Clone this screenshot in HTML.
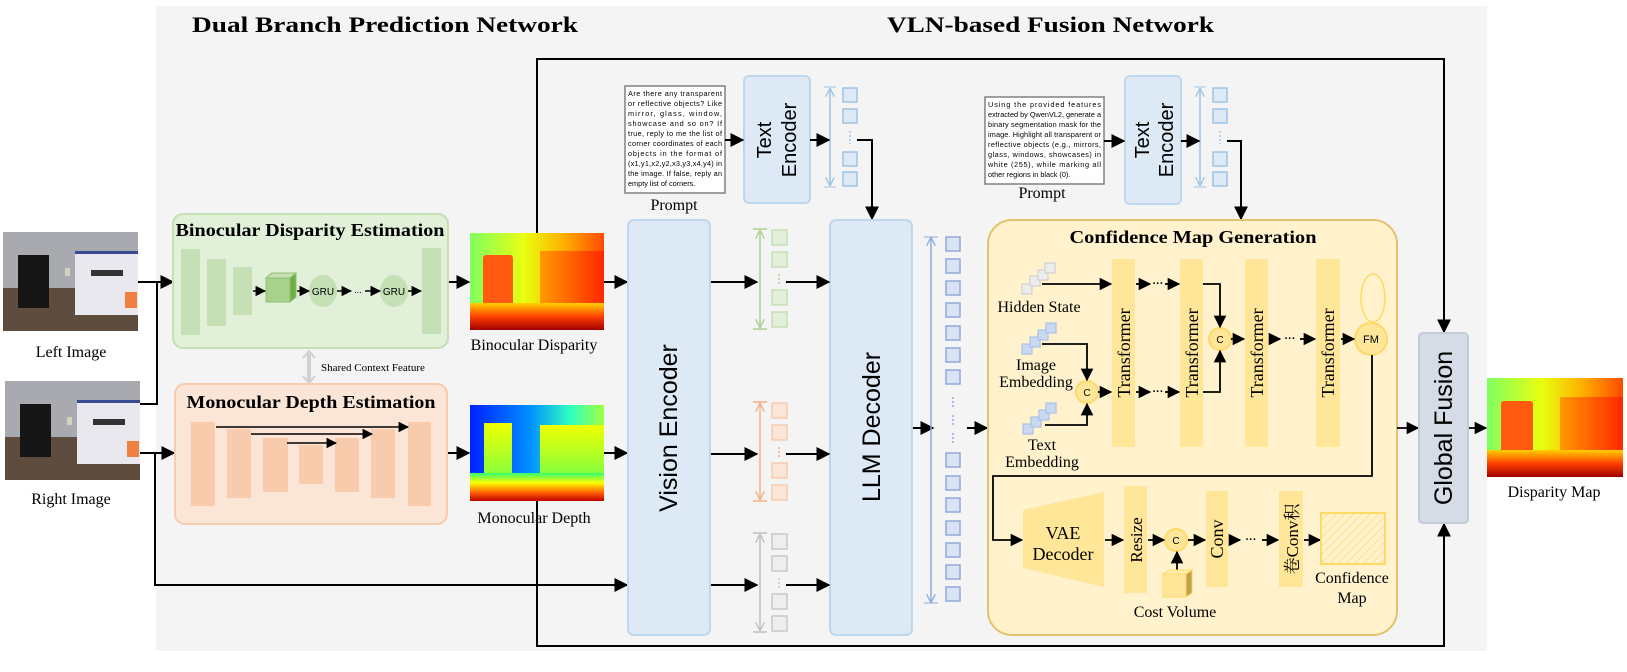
<!DOCTYPE html>
<html><head><meta charset="utf-8"><style>
html,body{margin:0;padding:0;background:#fff;}
svg{display:block}
.s{font-family:"Liberation Serif","Noto Serif CJK SC",serif;}
.a{font-family:"Liberation Sans","Noto Sans CJK SC",sans-serif;}
</style></head><body>
<svg width="1627" height="672" viewBox="0 0 1627 672" xmlns="http://www.w3.org/2000/svg">
<defs>
<marker id="ar" viewBox="0 0 10 10" refX="9" refY="5" markerWidth="7" markerHeight="7" orient="auto-start-reverse"><path d="M0,0L10,5L0,10z" fill="#000"/></marker>
<marker id="ag" viewBox="0 0 10 10" refX="9" refY="5" markerWidth="6" markerHeight="6" orient="auto-start-reverse"><path d="M0,0L10,5L0,10" fill="none" stroke="#a9d18e" stroke-width="1.5"/></marker>
<marker id="ao" viewBox="0 0 10 10" refX="9" refY="5" markerWidth="6" markerHeight="6" orient="auto-start-reverse"><path d="M0,0L10,5L0,10" fill="none" stroke="#f4b183" stroke-width="1.5"/></marker>
<marker id="ay" viewBox="0 0 10 10" refX="9" refY="5" markerWidth="6" markerHeight="6" orient="auto-start-reverse"><path d="M0,0L10,5L0,10" fill="none" stroke="#bfbfbf" stroke-width="1.5"/></marker>
<marker id="ab" viewBox="0 0 10 10" refX="9" refY="5" markerWidth="6" markerHeight="6" orient="auto-start-reverse"><path d="M0,0L10,5L0,10" fill="none" stroke="#9dc3e6" stroke-width="1.5"/></marker>
<marker id="ab2" viewBox="0 0 10 10" refX="9" refY="5" markerWidth="6" markerHeight="6" orient="auto-start-reverse"><path d="M0,0L10,5L0,10" fill="none" stroke="#8faadc" stroke-width="1.5"/></marker>
<linearGradient id="dTop" x1="0" x2="1" y1="0" y2="0"><stop offset="0" stop-color="#80ff60"/><stop offset=".4" stop-color="#e8ff10"/><stop offset=".7" stop-color="#ffb000"/><stop offset="1" stop-color="#ff4a00"/></linearGradient>
<linearGradient id="dBot" x1="0" x2="0" y1="0" y2="1"><stop offset="0" stop-color="#ffd000"/><stop offset=".5" stop-color="#ff4000"/><stop offset="1" stop-color="#a00000"/></linearGradient>
<linearGradient id="dObj" x1="0" x2="1" y1="0" y2="0"><stop offset="0" stop-color="#ff9a00"/><stop offset="1" stop-color="#ff2800"/></linearGradient>
<linearGradient id="mTop" x1="0" x2="1" y1="0" y2="0"><stop offset="0" stop-color="#0020ff"/><stop offset=".45" stop-color="#0090ff"/><stop offset=".75" stop-color="#30ffc0"/><stop offset="1" stop-color="#a0ff40"/></linearGradient>
<linearGradient id="mBot" x1="0" x2="0" y1="0" y2="1"><stop offset="0" stop-color="#30ff70"/><stop offset=".35" stop-color="#ffff00"/><stop offset=".7" stop-color="#ff6000"/><stop offset="1" stop-color="#c00000"/></linearGradient>
<linearGradient id="mObj" x1="0" x2="0" y1="0" y2="1"><stop offset="0" stop-color="#f0ff00"/><stop offset="1" stop-color="#80ff40"/></linearGradient>
<pattern id="hatch" width="6" height="6" patternUnits="userSpaceOnUse" patternTransform="rotate(45)"><rect width="6" height="6" fill="#fff2cc"/><line x1="0" y1="0" x2="0" y2="6" stroke="#ffe08a" stroke-width="2"/></pattern>
<g id="photo">
<rect x="0" y="0" width="135" height="99" fill="#a9a9b0"/>
<rect x="0" y="56" width="135" height="43" fill="#5e4c3e"/>
<rect x="15" y="23" width="31" height="53" fill="#151515"/>
<rect x="62" y="36" width="5" height="8" fill="#d8d0c0"/>
<rect x="72" y="19" width="63" height="64" fill="#e8e8ee"/>
<rect x="72" y="19" width="63" height="3" fill="#3a4a90"/>
<rect x="88" y="38" width="32" height="6" fill="#333"/>
<rect x="122" y="60" width="12" height="16" fill="#f08040"/>
</g>
</defs>

<rect x="156" y="6" width="1331" height="645" fill="#f4f4f4"/>

<text class="s" x="192" y="32" font-size="22" font-weight="bold" textLength="386" lengthAdjust="spacingAndGlyphs">Dual Branch Prediction Network</text>
<text class="s" x="887" y="32" font-size="22" font-weight="bold" textLength="327" lengthAdjust="spacingAndGlyphs">VLN-based Fusion Network</text>

<!-- photos -->
<use href="#photo" x="3" y="232"/>
<use href="#photo" x="5" y="381"/>
<text class="s" x="71" y="357" font-size="16" text-anchor="middle">Left Image</text>
<text class="s" x="71" y="504" font-size="16" text-anchor="middle">Right Image</text>

<!-- left connectors -->
<g stroke="#000" stroke-width="2" fill="none">
<line x1="138" y1="282" x2="173" y2="282" marker-end="url(#ar)"/>
<polyline points="140,404 157,404 157,282"/>
<line x1="140" y1="453" x2="174" y2="453" marker-end="url(#ar)"/>
<polyline points="155,453 155,585 627,585" marker-end="url(#ar)"/>
<line x1="448" y1="282" x2="469" y2="282" marker-end="url(#ar)"/>
<line x1="447" y1="453" x2="469" y2="453" marker-end="url(#ar)"/>
<line x1="604" y1="282" x2="627" y2="282" marker-end="url(#ar)"/>
<line x1="604" y1="453" x2="627" y2="453" marker-end="url(#ar)"/>
<polyline points="537,233 537,59 1444,59 1444,332" marker-end="url(#ar)"/>
<polyline points="537,501 537,646 1444,646 1444,524" marker-end="url(#ar)"/>
</g>

<!-- green box -->
<rect x="173" y="214" width="275" height="134" rx="10" fill="#e2f0d9" stroke="#c5e0b4" stroke-width="2"/>
<text class="s" x="310" y="236" font-size="18" font-weight="bold" text-anchor="middle" textLength="269" lengthAdjust="spacingAndGlyphs">Binocular Disparity Estimation</text>
<g fill="#c5e0b4">
<rect x="181" y="249" width="19" height="86"/><rect x="207" y="259" width="19" height="67"/><rect x="233" y="267" width="19" height="48"/><rect x="422" y="248" width="19" height="86"/>
<ellipse cx="323" cy="291" rx="14" ry="16"/><ellipse cx="394" cy="291" rx="14" ry="16"/>
</g>
<rect x="266" y="278" width="24" height="24" fill="#a9d18e" stroke="#8dbf6e"/>
<path d="M266,278 l6,-5 h24 l-6,5z" fill="#c5e0b4" stroke="#8dbf6e"/>
<path d="M290,278 l6,-5 v24 l-6,5z" fill="#70ad47" stroke="#8dbf6e"/>
<g stroke="#000" stroke-width="1.5" fill="none">
<line x1="253" y1="291" x2="265" y2="291" marker-end="url(#ar)"/>
<line x1="297" y1="291" x2="309" y2="291" marker-end="url(#ar)"/>
<line x1="337" y1="291" x2="351" y2="291" marker-end="url(#ar)"/>
<line x1="365" y1="291" x2="380" y2="291" marker-end="url(#ar)"/>
<line x1="408" y1="291" x2="421" y2="291" marker-end="url(#ar)"/>
</g>
<text class="a" x="323" y="295" font-size="10" text-anchor="middle">GRU</text>
<text class="a" x="394" y="295" font-size="10" text-anchor="middle">GRU</text>
<text class="a" x="358" y="293" font-size="9" text-anchor="middle">...</text>

<!-- shared -->
<line x1="309" y1="353" x2="309" y2="381" stroke="#d0d0d0" stroke-width="4"/>
<path d="M303,358 L309,351 L315,358 M303,376 L309,383 L315,376" fill="none" stroke="#d0d0d0" stroke-width="2"/>
<text class="s" x="321" y="371" font-size="11">Shared Context Feature</text>

<!-- orange box -->
<rect x="175" y="384" width="272" height="140" rx="10" fill="#fbe5d6" stroke="#f8cbad" stroke-width="2"/>
<text class="s" x="311" y="408" font-size="18" font-weight="bold" text-anchor="middle" textLength="249" lengthAdjust="spacingAndGlyphs">Monocular Depth Estimation</text>
<g fill="#f8cbad">
<rect x="191" y="422" width="24" height="84"/><rect x="227" y="429" width="24" height="69"/><rect x="263" y="438" width="25" height="54"/><rect x="299" y="445" width="24" height="39"/><rect x="335" y="438" width="24" height="54"/><rect x="371" y="429" width="24" height="69"/><rect x="408" y="422" width="23" height="84"/>
</g>
<g stroke="#000" stroke-width="1.5">
<line x1="216" y1="427" x2="408" y2="427" marker-end="url(#ar)"/>
<line x1="251" y1="434" x2="372" y2="434" marker-end="url(#ar)"/>
<line x1="287" y1="443" x2="336" y2="443" marker-end="url(#ar)"/>
</g>

<!-- depth images -->
<g transform="translate(470,233)">
<rect width="134" height="97" fill="url(#dTop)"/>
<rect x="13" y="22" width="30" height="52" fill="#ff5a10" rx="3"/>
<rect x="70" y="18" width="64" height="55" fill="url(#dObj)"/>
<rect y="70" width="134" height="27" fill="url(#dBot)"/>
</g>
<text class="s" x="534" y="350" font-size="16" text-anchor="middle">Binocular Disparity</text>
<g transform="translate(470,405)">
<rect width="134" height="96" fill="url(#mTop)"/>
<rect x="14" y="18" width="28" height="56" fill="url(#mObj)"/>
<rect x="70" y="20" width="64" height="52" fill="url(#mObj)"/>
<rect y="68" width="134" height="28" fill="url(#mBot)"/>
</g>
<text class="s" x="534" y="523" font-size="16" text-anchor="middle">Monocular Depth</text>

<!-- prompt 1 -->
<rect x="625" y="86" width="100" height="107" fill="#fff" stroke="#808080" stroke-width="1.5"/>
<g class="a" font-size="7.3" fill="#000">
<text x="628" y="96" textLength="94">Are there any transparent</text>
<text x="628" y="106" textLength="94">or reflective objects? Like</text>
<text x="628" y="116" textLength="94">mirror, glass, window,</text>
<text x="628" y="126" textLength="94">showcase and so on? If</text>
<text x="628" y="136" textLength="94">true, reply to me the list of</text>
<text x="628" y="146" textLength="94">corner coordinates of each</text>
<text x="628" y="156" textLength="94">objects in the format of</text>
<text x="628" y="166" textLength="94">(x1,y1,x2,y2,x3,y3,x4,y4) in</text>
<text x="628" y="176" textLength="94">the image. If false, reply an</text>
<text x="628" y="186">empty list of corners.</text>
</g>
<text class="s" x="674" y="210" font-size="16" text-anchor="middle">Prompt</text>
<rect x="744" y="76" width="66" height="127" rx="5" fill="#dde9f5" stroke="#bdd7ee" stroke-width="2"/>
<text class="a" transform="translate(776,140) rotate(-90)" font-size="20" text-anchor="middle"><tspan x="0" y="-5">Text</tspan><tspan x="0" y="20">Encoder</tspan></text>

<!-- prompt 2 -->
<rect x="985" y="97" width="119" height="87" fill="#fff" stroke="#808080" stroke-width="1.5"/>
<g class="a" font-size="7.3" fill="#000">
<text x="988" y="107" textLength="113">Using the provided features</text>
<text x="988" y="117" textLength="113">extracted by QwenVL2, generate a</text>
<text x="988" y="127" textLength="113">binary segmentation mask for the</text>
<text x="988" y="137" textLength="113">image. Highlight all transparent or</text>
<text x="988" y="147" textLength="113">reflective objects (e.g., mirrors,</text>
<text x="988" y="157" textLength="113">glass, windows, showcases) in</text>
<text x="988" y="167" textLength="113">white (255), while marking all</text>
<text x="988" y="177">other regions in black (0).</text>
</g>
<text class="s" x="1042" y="198" font-size="16" text-anchor="middle">Prompt</text>
<rect x="1125" y="76" width="56" height="128" rx="5" fill="#dde9f5" stroke="#bdd7ee" stroke-width="2"/>
<text class="a" transform="translate(1153,140) rotate(-90)" font-size="20" text-anchor="middle"><tspan x="0" y="-4">Text</tspan><tspan x="0" y="20">Encoder</tspan></text>

<!-- text token cols -->
<g fill="#dde9f5" stroke="#9dc3e6" stroke-width="1.5">
<rect x="843" y="88" width="14" height="14"/><rect x="843" y="109" width="14" height="14"/><rect x="843" y="152" width="14" height="14"/><rect x="843" y="172" width="14" height="14"/>
<rect x="1213" y="88" width="14" height="14"/><rect x="1213" y="109" width="14" height="14"/><rect x="1213" y="152" width="14" height="14"/><rect x="1213" y="172" width="14" height="14"/>
</g>
<line x1="830" y1="89" x2="830" y2="185" stroke="#9dc3e6" stroke-width="1.5" marker-start="url(#ab)" marker-end="url(#ab)"/>
<line x1="1200" y1="89" x2="1200" y2="185" stroke="#9dc3e6" stroke-width="1.5" marker-start="url(#ab)" marker-end="url(#ab)"/>
<line x1="824" y1="87" x2="836" y2="87" stroke="#9dc3e6"/><line x1="824" y1="187" x2="836" y2="187" stroke="#9dc3e6"/>
<line x1="1194" y1="87" x2="1206" y2="87" stroke="#9dc3e6"/><line x1="1194" y1="187" x2="1206" y2="187" stroke="#9dc3e6"/>
<line x1="850" y1="131" x2="850" y2="144" stroke="#9dc3e6" stroke-width="1.5" stroke-dasharray="2,2"/>
<line x1="1220" y1="131" x2="1220" y2="144" stroke="#9dc3e6" stroke-width="1.5" stroke-dasharray="2,2"/>

<g stroke="#000" stroke-width="2" fill="none">
<line x1="725" y1="140" x2="743" y2="140" marker-end="url(#ar)"/>
<line x1="810" y1="140" x2="829" y2="140" marker-end="url(#ar)"/>
<polyline points="857,140 872,140 872,219" marker-end="url(#ar)"/>
<line x1="1104" y1="141" x2="1124" y2="141" marker-end="url(#ar)"/>
<line x1="1181" y1="141" x2="1199" y2="141" marker-end="url(#ar)"/>
<polyline points="1227,141 1241,141 1241,219" marker-end="url(#ar)"/>
</g>

<!-- vision encoder / LLM -->
<rect x="628" y="220" width="82" height="415" rx="6" fill="#dde9f5" stroke="#bdd7ee" stroke-width="2"/>
<text class="a" transform="translate(677,428) rotate(-90)" font-size="25" text-anchor="middle">Vision Encoder</text>
<rect x="830" y="220" width="82" height="415" rx="6" fill="#dde9f5" stroke="#bdd7ee" stroke-width="2"/>
<text class="a" transform="translate(880,427) rotate(-90)" font-size="25" text-anchor="middle">LLM Decoder</text>

<!-- vision token columns -->
<g stroke-width="1.5">
<g fill="#e2f0d9" stroke="#c5e0b4"><rect x="772" y="230" width="15" height="15"/><rect x="772" y="252" width="15" height="15"/><rect x="772" y="290" width="15" height="15"/><rect x="772" y="312" width="15" height="15"/></g>
<line x1="760" y1="231" x2="760" y2="327" stroke="#a9d18e" marker-start="url(#ag)" marker-end="url(#ag)"/>
<line x1="753" y1="229" x2="767" y2="229" stroke="#a9d18e"/><line x1="753" y1="329" x2="767" y2="329" stroke="#a9d18e"/>
<line x1="779" y1="274" x2="779" y2="284" stroke="#a9d18e" stroke-dasharray="2,2"/>
<g fill="#fbe5d6" stroke="#f8cbad"><rect x="772" y="403" width="15" height="15"/><rect x="772" y="425" width="15" height="15"/><rect x="772" y="463" width="15" height="15"/><rect x="772" y="485" width="15" height="15"/></g>
<line x1="760" y1="404" x2="760" y2="499" stroke="#f4b183" marker-start="url(#ao)" marker-end="url(#ao)"/>
<line x1="753" y1="402" x2="767" y2="402" stroke="#f4b183"/><line x1="753" y1="501" x2="767" y2="501" stroke="#f4b183"/>
<line x1="779" y1="447" x2="779" y2="457" stroke="#f4b183" stroke-dasharray="2,2"/>
<g fill="#eeeeee" stroke="#c8c8c8"><rect x="772" y="534" width="15" height="15"/><rect x="772" y="556" width="15" height="15"/><rect x="772" y="594" width="15" height="15"/><rect x="772" y="616" width="15" height="15"/></g>
<line x1="760" y1="535" x2="760" y2="630" stroke="#bfbfbf" marker-start="url(#ay)" marker-end="url(#ay)"/>
<line x1="753" y1="533" x2="767" y2="533" stroke="#bfbfbf"/><line x1="753" y1="632" x2="767" y2="632" stroke="#bfbfbf"/>
<line x1="779" y1="578" x2="779" y2="588" stroke="#c8c8c8" stroke-dasharray="2,2"/>
</g>
<g stroke="#000" stroke-width="2">
<line x1="711" y1="282" x2="757" y2="282" marker-end="url(#ar)"/>
<line x1="786" y1="282" x2="829" y2="282" marker-end="url(#ar)"/>
<line x1="711" y1="454" x2="757" y2="454" marker-end="url(#ar)"/>
<line x1="786" y1="454" x2="829" y2="454" marker-end="url(#ar)"/>
<line x1="711" y1="585" x2="757" y2="585" marker-end="url(#ar)"/>
<line x1="786" y1="585" x2="829" y2="585" marker-end="url(#ar)"/>
<line x1="913" y1="428" x2="933" y2="428" marker-end="url(#ar)"/>
<line x1="967" y1="428" x2="987" y2="428" marker-end="url(#ar)"/>
</g>

<!-- LLM output column -->
<g fill="#dae3f3" stroke="#8faadc" stroke-width="1.5">
<rect x="946" y="237" width="14" height="14"/><rect x="946" y="259" width="14" height="14"/><rect x="946" y="281" width="14" height="14"/><rect x="946" y="303" width="14" height="14"/><rect x="946" y="326" width="14" height="14"/><rect x="946" y="348" width="14" height="14"/><rect x="946" y="370" width="14" height="14"/>
<rect x="946" y="453" width="14" height="14"/><rect x="946" y="476" width="14" height="14"/><rect x="946" y="498" width="14" height="14"/><rect x="946" y="521" width="14" height="14"/><rect x="946" y="543" width="14" height="14"/><rect x="946" y="565" width="14" height="14"/><rect x="946" y="587" width="14" height="14"/>
</g>
<line x1="931" y1="238" x2="931" y2="602" stroke="#8faadc" stroke-width="1.5" marker-start="url(#ab2)" marker-end="url(#ab2)"/>
<line x1="924" y1="237" x2="938" y2="237" stroke="#8faadc"/><line x1="924" y1="603" x2="938" y2="603" stroke="#8faadc"/>
<g stroke="#8faadc" stroke-width="1.5" stroke-dasharray="2,2"><line x1="953" y1="397" x2="953" y2="407"/><line x1="953" y1="415" x2="953" y2="425"/><line x1="953" y1="433" x2="953" y2="443"/></g>

<!-- confidence box -->
<rect x="988" y="220" width="409" height="415" rx="24" fill="#fff2cc" stroke="#e3c26a" stroke-width="2"/>
<text class="s" x="1193" y="243" font-size="18" font-weight="bold" text-anchor="middle" textLength="247" lengthAdjust="spacingAndGlyphs">Confidence Map Generation</text>
<g fill="#ffe699">
<rect x="1112" y="259" width="23" height="188"/><rect x="1180" y="259" width="23" height="188"/><rect x="1245" y="259" width="23" height="188"/><rect x="1316" y="259" width="24" height="188"/>
</g>
<g class="s" font-size="18">
<text transform="translate(1130,353) rotate(-90)" text-anchor="middle">Transformer</text>
<text transform="translate(1198,353) rotate(-90)" text-anchor="middle">Transformer</text>
<text transform="translate(1263,353) rotate(-90)" text-anchor="middle">Transformer</text>
<text transform="translate(1334,353) rotate(-90)" text-anchor="middle">Transformer</text>
</g>
<!-- embeddings icons -->
<g stroke-width="1.2">
<g fill="#ececec" stroke="#d0d0d0"><rect x="1022" y="284" width="10" height="10"/><rect x="1030" y="276" width="10" height="10"/><rect x="1038" y="270" width="10" height="10"/><rect x="1045" y="263" width="10" height="10"/></g>
<g fill="#c9d9f0" stroke="#a9c2e8"><rect x="1022" y="344" width="10" height="10"/><rect x="1030" y="337" width="10" height="10"/><rect x="1038" y="330" width="10" height="10"/><rect x="1046" y="323" width="10" height="10"/></g>
<g fill="#c9d9f0" stroke="#a9c2e8"><rect x="1023" y="424" width="10" height="10"/><rect x="1031" y="417" width="10" height="10"/><rect x="1039" y="410" width="10" height="10"/><rect x="1046" y="403" width="10" height="10"/></g>
</g>
<g class="s" font-size="16" text-anchor="middle">
<text x="1039" y="312">Hidden State</text>
<text x="1036" y="370">Image</text><text x="1036" y="387">Embedding</text>
<text x="1042" y="450">Text</text><text x="1042" y="467">Embedding</text>
</g>
<g fill="#ffe699" stroke="#ffd966" stroke-width="2">
<circle cx="1087" cy="392" r="11"/><circle cx="1220" cy="339" r="11"/><circle cx="1371" cy="339" r="16"/><circle cx="1176" cy="540" r="11"/>
</g>
<ellipse cx="1373" cy="298" rx="12" ry="24" fill="none" stroke="#ffd966" stroke-width="1.5"/>
<g class="a" font-size="10" text-anchor="middle"><text x="1087" y="396">C</text><text x="1220" y="343">C</text><text x="1176" y="544">C</text><text x="1371" y="343" font-size="11">FM</text></g>
<g stroke="#000" stroke-width="1.8" fill="none">
<line x1="1042" y1="284" x2="1111" y2="284" marker-end="url(#ar)"/>
<line x1="1136" y1="284" x2="1150" y2="284" marker-end="url(#ar)"/>
<line x1="1165" y1="284" x2="1179" y2="284" marker-end="url(#ar)"/>
<polyline points="1203,284 1220,284 1220,327" marker-end="url(#ar)"/>
<polyline points="1042,344 1087,344 1087,380" marker-end="url(#ar)"/>
<polyline points="1045,425 1087,425 1087,404" marker-end="url(#ar)"/>
<line x1="1098" y1="392" x2="1111" y2="392" marker-end="url(#ar)"/>
<line x1="1136" y1="392" x2="1150" y2="392" marker-end="url(#ar)"/>
<line x1="1165" y1="392" x2="1179" y2="392" marker-end="url(#ar)"/>
<polyline points="1203,392 1220,392 1220,351" marker-end="url(#ar)"/>
<line x1="1231" y1="339" x2="1244" y2="339" marker-end="url(#ar)"/>
<line x1="1269" y1="339" x2="1280" y2="339" marker-end="url(#ar)"/>
<line x1="1300" y1="339" x2="1315" y2="339" marker-end="url(#ar)"/>
<line x1="1341" y1="339" x2="1354" y2="339" marker-end="url(#ar)"/>
<polyline points="1372,355 1372,476 993,476 993,540 1022,540" marker-end="url(#ar)"/>
<line x1="1105" y1="540" x2="1123" y2="540" marker-end="url(#ar)"/>
<line x1="1148" y1="540" x2="1164" y2="540" marker-end="url(#ar)"/>
<line x1="1177" y1="570" x2="1177" y2="552" marker-end="url(#ar)"/>
<line x1="1188" y1="540" x2="1205" y2="540" marker-end="url(#ar)"/>
<line x1="1229" y1="540" x2="1240" y2="540" marker-end="url(#ar)"/>
<line x1="1262" y1="540" x2="1278" y2="540" marker-end="url(#ar)"/>
<line x1="1304" y1="540" x2="1320" y2="540" marker-end="url(#ar)"/>
<line x1="1397" y1="428" x2="1418" y2="428" marker-end="url(#ar)"/>
<line x1="1468" y1="428" x2="1486" y2="428" marker-end="url(#ar)"/>
</g>
<g class="a" font-size="11" font-weight="bold" text-anchor="middle"><text x="1158" y="287">···</text><text x="1158" y="395">···</text><text x="1290" y="342">···</text><text x="1251" y="543">···</text></g>

<!-- bottom row -->
<path d="M1023,510 L1104,492 L1104,587 L1023,568z" fill="#ffe699"/>
<text class="s" x="1063" y="539" font-size="18" text-anchor="middle">VAE</text>
<text class="s" x="1063" y="560" font-size="18" text-anchor="middle">Decoder</text>
<rect x="1124" y="486" width="23" height="107" fill="#ffe699"/>
<text class="s" transform="translate(1142,540) rotate(-90)" font-size="17" text-anchor="middle">Resize</text>
<rect x="1206" y="491" width="22" height="96" fill="#ffe699"/>
<text class="s" transform="translate(1223,539) rotate(-90)" font-size="18" text-anchor="middle">Conv</text>
<rect x="1279" y="491" width="24" height="96" fill="#ffe699"/>
<text class="s" transform="translate(1298,539) rotate(-90)" font-size="17" text-anchor="middle">卷Conv积</text>
<rect x="1321" y="513" width="64" height="51" fill="url(#hatch)" stroke="#ffd966" stroke-width="2"/>
<rect x="1163" y="574" width="23" height="23" fill="#ffe699" stroke="#ffd966"/>
<path d="M1163,574 l6,-4 h23 l-6,4z" fill="#fff0b0" stroke="#ffd966"/>
<path d="M1186,574 l6,-4 v23 l-6,4z" fill="#bfa050" stroke="#ffd966"/>
<text class="s" x="1175" y="617" font-size="16" text-anchor="middle">Cost Volume</text>
<text class="s" x="1352" y="583" font-size="16" text-anchor="middle">Confidence</text>
<text class="s" x="1352" y="603" font-size="16" text-anchor="middle">Map</text>

<!-- global fusion -->
<rect x="1419" y="333" width="49" height="190" rx="4" fill="#d6dce5" stroke="#c3cbda" stroke-width="2"/>
<text class="a" transform="translate(1452,428) rotate(-90)" font-size="25" text-anchor="middle">Global Fusion</text>

<!-- output -->
<g transform="translate(1487,378)">
<rect width="136" height="99" fill="url(#dTop)"/>
<rect x="14" y="23" width="32" height="53" fill="#ff5a10" rx="3"/>
<rect x="73" y="19" width="63" height="55" fill="url(#dObj)"/>
<rect y="72" width="136" height="27" fill="url(#dBot)"/>
</g>
<text class="s" x="1554" y="497" font-size="16" text-anchor="middle">Disparity Map</text>
</svg>
</body></html>
